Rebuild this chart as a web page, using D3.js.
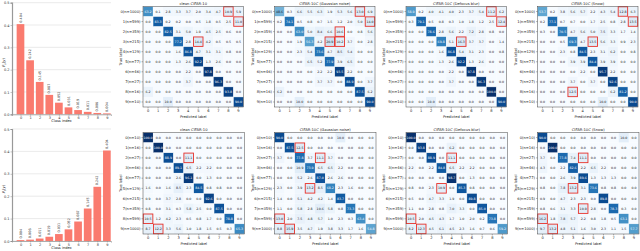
<!DOCTYPE html>
<html>
<head>
<meta charset="utf-8">
<script src="https://cdn.jsdelivr.net/npm/d3@7"></script>
<style>
  body { margin: 0; background: #fff; }
  svg { display: block; font-family: "DejaVu Sans", sans-serif; }
  .tick text { font-family: "DejaVu Sans", sans-serif; }
</style>
</head>
<body>
<svg id="chart" width="640" height="251"></svg>
<script>
// ---- data ----
var classes = [0, 1, 2, 3, 4, 5, 6, 7, 8, 9];
var sourceProb = [0.404, 0.242, 0.145, 0.087, 0.052, 0.031, 0.019, 0.011, 0.006, 0.004];
var targetProb = [0.004, 0.006, 0.011, 0.019, 0.031, 0.052, 0.087, 0.145, 0.242, 0.404];
var yTicks = [0.0, 0.1, 0.2, 0.3, 0.4, 0.5];
var sourceCounts = [1000, 599, 359, 215, 129, 77, 46, 27, 16, 10];
var targetCounts = [10, 16, 27, 46, 77, 129, 215, 359, 599, 1000];
var titles = ['clean CIFAR-10', 'CIFAR-10C (Gaussian noise)', 'CIFAR-10C (Defocus blur)', 'CIFAR-10C (Snow)'];

var cmTopClean = [
  [63.2, 0.1, 2.8, 3.3, 3.7, 2.0, 3.4, 4.7, 10.9, 5.9],
  [0.0, 83.3, 0.2, 0.2, 0.0, 0.5, 1.8, 0.5, 2.5, 11.0],
  [0.0, 0.0, 82.5, 3.1, 5.0, 1.9, 4.5, 2.5, 0.6, 0.0],
  [0.0, 0.0, 0.0, 77.2, 2.8, 14.4, 4.2, 0.5, 0.5, 0.5],
  [0.0, 0.0, 0.0, 1.6, 86.8, 4.7, 3.1, 3.1, 0.8, 0.0],
  [0.0, 0.0, 0.0, 1.3, 2.6, 92.2, 1.3, 2.6, 0.0, 0.0],
  [0.0, 0.0, 0.0, 0.0, 2.2, 0.0, 97.8, 0.0, 0.0, 0.0],
  [0.0, 0.0, 0.0, 0.0, 3.7, 0.0, 0.0, 96.3, 0.0, 0.0],
  [6.2, 0.0, 0.0, 0.0, 0.0, 0.0, 0.0, 0.0, 93.8, 0.0],
  [0.0, 0.0, 10.0, 0.0, 0.0, 0.0, 0.0, 0.0, 0.0, 90.0]
];
var cmTopGauss = [
  [48.6, 0.3, 6.6, 5.5, 6.3, 1.9, 5.3, 5.6, 13.0, 6.9],
  [0.2, 74.1, 0.5, 0.8, 0.7, 1.5, 1.2, 2.0, 5.0, 14.0],
  [0.0, 0.0, 63.0, 5.0, 8.4, 6.6, 10.6, 0.0, 0.8, 5.6],
  [0.0, 0.0, 1.9, 56.3, 4.2, 20.9, 10.2, 3.7, 0.0, 2.8],
  [0.0, 0.0, 2.3, 5.4, 73.6, 4.7, 8.5, 5.4, 0.0, 0.0],
  [0.0, 0.0, 0.0, 6.5, 5.2, 77.9, 3.9, 6.5, 0.0, 0.0],
  [0.0, 0.0, 0.0, 0.0, 2.2, 2.2, 93.5, 2.2, 0.0, 0.0],
  [0.0, 0.0, 0.0, 0.0, 3.7, 3.7, 0.0, 88.9, 0.0, 3.7],
  [6.2, 0.0, 0.0, 0.0, 0.0, 0.0, 0.0, 0.0, 87.5, 6.2],
  [0.0, 0.0, 10.0, 0.0, 0.0, 0.0, 0.0, 0.0, 0.0, 90.0]
];
var cmTopDefocus = [
  [58.9, 0.2, 4.0, 4.1, 4.0, 2.3, 3.7, 5.4, 11.2, 6.2],
  [0.3, 79.1, 0.5, 0.8, 0.3, 1.0, 1.8, 1.2, 2.5, 12.4],
  [0.0, 0.0, 78.6, 2.8, 5.6, 2.2, 7.2, 2.8, 0.8, 0.0],
  [0.0, 0.0, 0.0, 69.8, 5.1, 16.3, 3.7, 3.7, 0.0, 1.4],
  [0.0, 0.0, 0.0, 1.6, 86.8, 5.4, 3.1, 2.3, 0.0, 0.8],
  [0.0, 0.0, 0.0, 1.3, 2.6, 92.2, 1.3, 2.6, 0.0, 0.0],
  [0.0, 0.0, 0.0, 0.0, 2.2, 0.0, 97.8, 0.0, 0.0, 0.0],
  [0.0, 0.0, 0.0, 0.0, 3.7, 0.0, 0.0, 96.3, 0.0, 0.0],
  [0.0, 0.0, 0.0, 0.0, 0.0, 0.0, 0.0, 0.0, 100.0, 0.0],
  [0.0, 0.0, 10.0, 0.0, 0.0, 0.0, 0.0, 0.0, 0.0, 90.0]
];
var cmTopSnow = [
  [53.7, 0.2, 3.8, 5.6, 5.7, 2.2, 4.3, 5.4, 12.8, 6.3],
  [0.2, 77.1, 0.7, 0.7, 0.0, 1.7, 2.5, 0.8, 2.8, 13.5],
  [0.3, 0.0, 70.5, 4.7, 5.6, 5.0, 7.5, 3.3, 1.7, 1.4],
  [0.0, 0.0, 0.5, 69.3, 4.7, 13.5, 5.6, 3.3, 0.9, 2.3],
  [0.0, 0.0, 2.3, 0.8, 84.5, 2.3, 3.1, 6.2, 0.0, 0.8],
  [0.0, 0.0, 0.0, 3.9, 3.9, 84.4, 3.9, 3.9, 0.0, 0.0],
  [0.0, 0.0, 0.0, 0.0, 2.2, 0.0, 95.7, 2.2, 0.0, 0.0],
  [0.0, 0.0, 0.0, 3.7, 0.0, 3.7, 0.0, 92.6, 0.0, 0.0],
  [0.0, 0.0, 0.0, 12.5, 0.0, 0.0, 0.0, 6.2, 81.2, 0.0],
  [0.0, 0.0, 0.0, 0.0, 0.0, 0.0, 10.0, 0.0, 0.0, 90.0]
];
var cmBotClean = [
  [100.0, 0.0, 0.0, 0.0, 0.0, 0.0, 0.0, 0.0, 0.0, 0.0],
  [0.0, 100.0, 0.0, 0.0, 0.0, 0.0, 0.0, 0.0, 0.0, 0.0],
  [0.0, 0.0, 88.9, 0.0, 11.1, 0.0, 0.0, 0.0, 0.0, 0.0],
  [0.0, 0.0, 0.0, 89.1, 6.5, 2.2, 2.2, 0.0, 0.0, 0.0],
  [0.0, 0.0, 0.0, 2.6, 96.1, 0.0, 1.3, 0.0, 0.0, 0.0],
  [1.6, 0.0, 1.6, 8.5, 2.3, 84.5, 0.8, 0.8, 0.0, 0.0],
  [0.9, 0.0, 3.7, 2.8, 0.0, 0.0, 92.6, 0.0, 0.0, 0.0],
  [0.8, 0.0, 3.1, 0.3, 5.8, 2.5, 0.0, 87.5, 0.0, 0.0],
  [10.5, 1.2, 4.2, 2.3, 0.5, 0.8, 1.7, 0.0, 78.8, 0.0],
  [8.7, 12.2, 3.3, 5.6, 1.0, 1.8, 1.5, 0.5, 0.3, 65.3]
];
var cmBotGauss = [
  [90.0, 0.0, 0.0, 0.0, 0.0, 0.0, 10.0, 0.0, 0.0, 0.0],
  [0.0, 87.5, 12.5, 0.0, 0.0, 0.0, 0.0, 0.0, 0.0, 0.0],
  [3.7, 0.0, 77.8, 3.7, 11.1, 3.7, 0.0, 0.0, 0.0, 0.0],
  [0.0, 0.0, 10.9, 73.9, 6.5, 6.5, 2.2, 0.0, 0.0, 0.0],
  [0.0, 0.0, 5.2, 2.6, 87.0, 2.6, 2.6, 0.0, 0.0, 0.0],
  [2.3, 0.0, 3.9, 13.2, 8.5, 68.2, 2.3, 1.6, 0.0, 0.0],
  [1.4, 0.0, 5.1, 4.2, 4.2, 1.4, 83.7, 0.0, 0.0, 0.0],
  [1.1, 0.0, 5.8, 2.8, 10.6, 5.8, 0.8, 73.3, 0.0, 0.0],
  [13.0, 2.0, 7.5, 4.8, 5.7, 1.0, 2.3, 0.3, 63.4, 0.0],
  [8.8, 15.9, 3.5, 4.7, 1.9, 3.8, 3.3, 1.7, 1.6, 54.8]
];
var cmBotDefocus = [
  [100.0, 0.0, 0.0, 0.0, 0.0, 0.0, 0.0, 0.0, 0.0, 0.0],
  [0.0, 93.8, 0.0, 0.0, 6.2, 0.0, 0.0, 0.0, 0.0, 0.0],
  [0.0, 0.0, 88.9, 0.0, 11.1, 0.0, 0.0, 0.0, 0.0, 0.0],
  [2.2, 0.0, 2.2, 84.8, 6.5, 2.2, 2.2, 0.0, 0.0, 0.0],
  [0.0, 0.0, 0.0, 0.0, 98.7, 0.0, 1.3, 0.0, 0.0, 0.0],
  [0.8, 0.0, 2.3, 10.9, 0.0, 85.3, 0.8, 0.0, 0.0, 0.0],
  [0.5, 0.0, 4.7, 3.3, 1.9, 0.0, 89.8, 0.0, 0.0, 0.0],
  [1.1, 0.0, 2.8, 0.8, 7.0, 3.3, 0.0, 85.0, 0.0, 0.0],
  [10.5, 2.0, 4.5, 4.3, 1.7, 1.0, 2.0, 0.2, 73.8, 0.0],
  [8.2, 12.3, 4.5, 6.1, 4.5, 2.3, 1.6, 0.7, 0.6, 59.2]
];
var cmBotSnow = [
  [90.0, 0.0, 0.0, 0.0, 0.0, 0.0, 0.0, 0.0, 10.0, 0.0],
  [0.0, 100.0, 0.0, 0.0, 0.0, 0.0, 0.0, 0.0, 0.0, 0.0],
  [3.7, 0.0, 77.8, 7.4, 11.1, 0.0, 0.0, 0.0, 0.0, 0.0],
  [4.3, 0.0, 2.2, 82.6, 2.2, 6.5, 2.2, 0.0, 0.0, 0.0],
  [0.0, 0.0, 2.6, 3.9, 89.6, 1.3, 1.3, 1.3, 0.0, 0.0],
  [0.8, 0.0, 7.8, 13.2, 3.1, 73.6, 0.8, 0.8, 0.0, 0.0],
  [0.9, 0.0, 4.7, 2.3, 2.3, 0.0, 89.8, 0.0, 0.0, 0.0],
  [0.8, 0.6, 3.1, 3.3, 10.9, 2.8, 0.0, 78.3, 0.3, 0.0],
  [16.2, 1.8, 7.8, 5.7, 2.2, 0.8, 1.8, 0.5, 63.1, 0.0],
  [9.7, 13.2, 4.8, 5.1, 1.6, 3.0, 2.3, 1.1, 1.5, 57.7]
];

// highlighted cells [row, col]
var boxTopClean = [[0, 8], [1, 9], [3, 5]];
var boxTopGauss = [[0, 8], [1, 9], [2, 6], [3, 5], [3, 6]];
var boxTopDefocus = [[0, 8], [1, 9], [3, 5]];
var boxTopSnow = [[0, 8], [1, 9], [3, 5], [8, 3]];
var boxBotClean = [[2, 4], [8, 0], [9, 1]];
var boxBotGauss = [[1, 2], [2, 4], [5, 3], [8, 0], [9, 1]];
var boxBotDefocus = [[2, 4], [5, 3], [8, 0], [9, 1]];
var boxBotSnow = [[2, 4], [5, 3], [7, 4], [8, 0], [9, 1]];

// ---- drawing ----
var svg = d3.select('#chart');
var barColor = '#fa7b6f';

function drawBars(probs, top, bottom, sub) {
    var x = d3.scaleLinear().domain([-0.885, 9.43]).range([12, 111]);
    var y = d3.scaleLinear().domain([0, 0.5]).range([bottom, top]);
    var g = svg.append('g');

    g.selectAll('.grid')
        .data(yTicks)
        .enter()
        .append('line')
        .attr('x1', 12).attr('x2', 111)
        .attr('y1', function (d) { return y(d); })
        .attr('y2', function (d) { return y(d); })
        .style('stroke', '#dcdcdc')
        .style('stroke-width', 0.6);

    g.selectAll('.bar')
        .data(probs)
        .enter()
        .append('rect')
        .attr('x', function (d, i) { return x(i - 0.4); })
        .attr('width', x(0.8) - x(0))
        .attr('y', function (d) { return y(d); })
        .attr('height', function (d) { return y(0) - y(d); })
        .style('fill', barColor);

    g.selectAll('.val')
        .data(probs)
        .enter()
        .append('text')
        .attr('transform', function (d, i) {
            return 'translate(' + [x(i) + 1.2, y(d) - 1.5] + ') rotate(-90)';
        })
        .text(function (d) { return d.toFixed(3); })
        .style('font-size', '3.4px')
        .style('fill', '#333');

    var ya = g.append('g')
        .attr('transform', 'translate(12,0)')
        .call(d3.axisLeft(y).tickValues(yTicks).tickFormat(d3.format('.1f')).tickSize(1.5));
    ya.select('.domain').style('stroke', '#999').style('stroke-width', 1.2);
    ya.selectAll('.tick line').style('stroke', '#888').style('stroke-width', 0.5);
    ya.selectAll('.tick text').style('font-size', '3.5px').style('fill', '#333').attr('x', -2.5);

    var xa = g.append('g')
        .attr('transform', 'translate(0,' + bottom + ')')
        .call(d3.axisBottom(x).tickValues(classes).tickSize(1.5));
    xa.select('.domain').style('stroke', '#999').style('stroke-width', 0.8);
    xa.selectAll('.tick line').style('stroke', '#888').style('stroke-width', 0.5);
    xa.selectAll('.tick text').style('font-size', '3.5px').style('fill', '#333').attr('y', 2.5);

    g.append('text')
        .attr('x', 61.5).attr('y', bottom + 8)
        .style('font-size', '3.6px')
        .style('text-anchor', 'middle')
        .style('fill', '#222')
        .text('Class index');

    var yl = g.append('text')
        .attr('transform', 'translate(' + [5, (top + bottom) / 2 + 4] + ') rotate(-90)')
        .style('font-size', '3.8px')
        .style('text-anchor', 'middle')
        .style('fill', '#222');
    yl.append('tspan').style('font-style', 'italic').text('P');
    yl.append('tspan').attr('dy', 0.8).style('font-size', '2.7px').style('font-style', 'italic').text(sub);
    yl.append('tspan').attr('dy', -0.8).text('(');
    yl.append('tspan').style('font-style', 'italic').text('y');
    yl.append('tspan').text(')');
}

function drawCM(mat, counts, title, boxes, left, top, size) {
    var cell = size / 10;
    var x = d3.scaleBand().domain(classes).range([left, left + size]);
    var y = d3.scaleBand().domain(classes).range([top, top + size]);
    var g = svg.append('g');

    var cells = [];
    mat.forEach(function (row, r) {
        row.forEach(function (v, c) { cells.push({ r: r, c: c, v: v }); });
    });

    g.selectAll('.cell')
        .data(cells)
        .enter()
        .append('rect')
        .attr('x', function (d) { return x(d.c); })
        .attr('y', function (d) { return y(d.r); })
        .attr('width', cell)
        .attr('height', cell)
        .style('fill', function (d) { return d3.interpolateBlues(d.v / 100); })
        .style('stroke', function (d) { return d.r == d.c ? '#ffffff' : 'none'; })
        .style('stroke-width', 0.4);

    g.selectAll('.num')
        .data(cells)
        .enter()
        .append('text')
        .attr('x', function (d) { return x(d.c) + cell / 2; })
        .attr('y', function (d) { return y(d.r) + cell / 2 + 1.1; })
        .text(function (d) { return d.v.toFixed(1); })
        .style('font-size', '3.2px')
        .style('text-anchor', 'middle')
        .style('fill', function (d) { return d.v > 50 ? '#ffffff' : '#1a1a1a'; });

    g.selectAll('.box')
        .data(boxes)
        .enter()
        .append('rect')
        .attr('x', function (d) { return x(d[1]) + 0.3; })
        .attr('y', function (d) { return y(d[0]) + 0.3; })
        .attr('width', cell - 0.6)
        .attr('height', cell - 0.6)
        .style('fill', 'none')
        .style('stroke', '#e8322b')
        .style('stroke-width', 0.9);

    g.append('rect')
        .attr('x', left).attr('y', top)
        .attr('width', size).attr('height', size)
        .style('fill', 'none')
        .style('stroke', '#444')
        .style('stroke-width', 0.5);

    g.selectAll('.rowlab')
        .data(classes)
        .enter()
        .append('text')
        .attr('x', left - 2.5)
        .attr('y', function (i) { return y(i) + cell / 2 + 1.3; })
        .text(function (i) { return i + '(n=' + counts[i] + ')'; })
        .style('font-size', '3.7px')
        .style('text-anchor', 'end')
        .style('fill', '#222');

    g.selectAll('.rowtick')
        .data(classes)
        .enter()
        .append('line')
        .attr('x1', left - 1.5).attr('x2', left)
        .attr('y1', function (i) { return y(i) + cell / 2; })
        .attr('y2', function (i) { return y(i) + cell / 2; })
        .style('stroke', '#444').style('stroke-width', 0.4);

    g.selectAll('.coltick')
        .data(classes)
        .enter()
        .append('line')
        .attr('x1', function (i) { return x(i) + cell / 2; })
        .attr('x2', function (i) { return x(i) + cell / 2; })
        .attr('y1', top + size).attr('y2', top + size + 1.5)
        .style('stroke', '#444').style('stroke-width', 0.4);

    g.selectAll('.collab')
        .data(classes)
        .enter()
        .append('text')
        .attr('x', function (i) { return x(i) + cell / 2; })
        .attr('y', top + size + 5.3)
        .text(function (i) { return i; })
        .style('font-size', '3.6px')
        .style('text-anchor', 'middle')
        .style('fill', '#222');

    g.append('text')
        .attr('x', left + size / 2).attr('y', top - 1.8)
        .text(title)
        .style('font-size', '3.7px')
        .style('text-anchor', 'middle')
        .style('fill', '#222');

    g.append('text')
        .attr('x', left + size / 2).attr('y', top + size + 10.8)
        .text('Predicted label')
        .style('font-size', '3.6px')
        .style('text-anchor', 'middle')
        .style('fill', '#222');

    g.append('text')
        .attr('transform', 'translate(' + [left - 21, top + size / 2] + ') rotate(-90)')
        .text('True label')
        .style('font-size', '3.6px')
        .style('text-anchor', 'middle')
        .style('fill', '#222');
}

drawBars(sourceProb, 2.7, 114.3, 's');
drawBars(targetProb, 129, 241, 't');

var topMats = [cmTopClean, cmTopGauss, cmTopDefocus, cmTopSnow];
var botMats = [cmBotClean, cmBotGauss, cmBotDefocus, cmBotSnow];
var topBoxes = [boxTopClean, boxTopGauss, boxTopDefocus, boxTopSnow];
var botBoxes = [boxBotClean, boxBotGauss, boxBotDefocus, boxBotSnow];

titles.forEach(function (t, k) {
    var left = 143 + k * 131.5;
    drawCM(topMats[k], sourceCounts, t, topBoxes[k], left, 6.5, 100.5);
    drawCM(botMats[k], targetCounts, t, botBoxes[k], left, 132.5, 101.5);
});
</script>
</body>
</html>
